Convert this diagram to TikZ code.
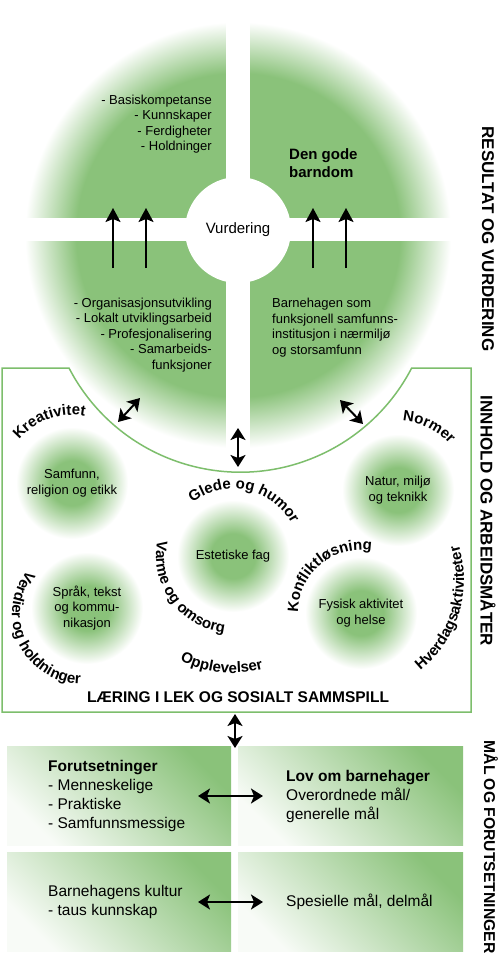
\documentclass[tikz,border=0pt]{standalone}
\usepackage{fontspec}
\setmainfont{Liberation Sans}
\usetikzlibrary{
  arrows.meta,
  decorations.text
}

\definecolor{leafgreen}{RGB}{138,194,122}
\definecolor{rimgreen}{RGB}{125,190,108}

\pgfdeclareradialshading{bigfade}{\pgfpoint{0bp}{0bp}}{color(0bp)=(leafgreen); color(19bp)=(leafgreen); color(25bp)=(white); color(50bp)=(white)}
\pgfdeclareradialshading{ballfade}{\pgfpoint{0bp}{0bp}}{color(0bp)=(leafgreen); color(10bp)=(leafgreen); color(25bp)=(white); color(50bp)=(white)}

\newcommand\bowfont{\bfseries\fontsize{15}{15}\selectfont}

\begin{document}
\begin{tikzpicture}[
  x=1pt, y=1pt,
  every node/.style={inner sep=0pt},
  small/.style={font=\fontsize{13}{15.5}\selectfont},
  plain/.style={font=\fontsize{15.5}{19}\selectfont},
  side/.style={rotate=-90, font=\bfseries\fontsize{17}{17}\selectfont},
  hub/.style={circle, fill=white, minimum size=106pt, font=\fontsize{15}{18}\selectfont},
  field/.style={circle, shade, shading=ballfade, minimum size=112pt, align=center, small},
  goal/.style={minimum height=99pt, top color=leafgreen, bottom color=white!94!leafgreen, shading angle=-45},
  rim/.style={draw=rimgreen, line width=1.5pt},
  lift/.style={line width=2pt, -{Stealth[length=14pt, width=15pt, inset=3pt]}},
  swap/.style={line width=2pt, {Stealth[length=12pt, width=15pt, inset=3pt]}-{Stealth[length=12pt, width=15pt, inset=3pt]}},
  bow/.style={decorate, decoration={text along path, text align=center, text={|\bowfont|#1}}}
  ]
\useasboundingbox (0,0) rectangle (500,-964);
\fill[white] (0,0) rectangle (500,-964);

% result disc
\shade[shading=bigfade] (238,-235) circle[radius=213];
\fill[white] (226,0) rectangle (250,-472);
\fill[white] (0,-218) rectangle (480,-241);
\node[hub] (vurdering) at (238,-230) {Vurdering};

\node[small, anchor=east, align=right] (kompetanse) at (212,-124) {- Basiskompetanse\\- Kunnskaper\\- Ferdigheter\\- Holdninger};
\node[anchor=west, align=left, font=\bfseries\fontsize{15}{18}\selectfont] (barndom) at (289,-163) {Den gode\\barndom};
\node[small, anchor=east, align=right] (utvikling) at (212,-335) {- Organisasjonsutvikling\\- Lokalt utviklingsarbeid\\- Profesjonalisering\\- Samarbeids-\\funksjoner};
\node[small, anchor=west, align=left] (institusjon) at (272,-327.5) {Barnehagen som\\funksjonell samfunns-\\institusjon i nærmiljø\\og storsamfunn};

\foreach \x [count=\i] in {113,146,313,346} {
  \coordinate (foot\i) at (\x,-268);
  \coordinate (head\i) at (\x,-208);
  \draw[lift] (foot\i) -- (head\i);
}

% content box
\draw[rim, fill=white] (2,-368) -- (69,-368) arc[start angle=207.4, end angle=332.6, radius=193] -- (471,-368) -- (471,-712) -- (2,-712) -- cycle;

\node[field] (etikk) at (72,-483) {Samfunn,\\religion og etikk};
\node[field] (teknikk) at (398,-490) {Natur, miljø\\og teknikk};
\node[field] (estetikk) at (233,-556) {Estetiske fag};
\node[field] (sprak) at (87,-608) {Språk, tekst\\og kommu-\\nikasjon};
\node[field] (helse) at (361,-613) {Fysisk aktivitet\\og helse};

\path[bow=Kreativitet] (etikk.center) ++(180:68) arc[start angle=180, end angle=40, radius=68];
\path[bow=Normer] (teknikk.center) ++(124:69) arc[start angle=124, end angle=4, radius=69];
\path[bow=Glede og humor] (estetikk.center) ++(158:67) arc[start angle=158, end angle=-2, radius=67];
\path[bow=Varme og omsorg] (estetikk.center) ++(136:77) arc[start angle=136, end angle=296, radius=77];
\path[bow=Opplevelser] (estetikk.center) ++(224:117) arc[start angle=224, end angle=304, radius=117];
\coordinate (verdiMid) at (82,-614);
\path[bow=Verdier og holdninger] (verdiMid) ++(115:70) arc[start angle=115, end angle=295, radius=70];
\path[bow=Konfliktløsning] (helse.center) ++(210:63) arc[start angle=210, end angle=50, radius=63];
\coordinate (hverdagMid) at (348,-580);
\path[bow=Hverdagsaktiviteter] (hverdagMid) ++(-97:116) arc[start angle=-97, end angle=63, radius=116];

\node[font=\bfseries\fontsize{15.5}{15.5}\selectfont] (laering) at (238,-697) {LÆRING I LEK OG SOSIALT SAMMSPILL};

\coordinate (kreaA) at (118,-422);
\coordinate (kreaB) at (140,-398);
\coordinate (midA) at (238,-428);
\coordinate (midB) at (238,-467);
\coordinate (normA) at (340,-400);
\coordinate (normB) at (363,-424);
\draw[swap] (kreaA) -- (kreaB);
\draw[swap] (midA) -- (midB);
\draw[swap] (normA) -- (normB);

% goals and conditions
\node[goal, minimum width=224pt] (forut) at (119,-795.5) {};
\node[goal, minimum width=225pt] (lov) at (350.5,-795.5) {};
\node[goal, minimum width=224pt] (kultur) at (119,-901.5) {};
\node[goal, minimum width=225pt] (delmal) at (350.5,-901.5) {};

\node[plain, anchor=west, align=left] (forutTxt) at (48,-796) {\textbf{Forutsetninger}\\- Menneskelige\\- Praktiske\\- Samfunnsmessige};
\node[plain, anchor=west, align=left] (lovTxt) at (286,-796) {\textbf{Lov om barnehager}\\Overordnede mål/\\generelle mål};
\node[plain, anchor=west, align=left] (kulturTxt) at (48,-902) {Barnehagens kultur\\- taus kunnskap};
\node[plain, anchor=west, align=left] (delmalTxt) at (286,-902) {Spesielle mål, delmål};

\coordinate (linkA) at (235,-714);
\coordinate (linkB) at (235,-748);
\draw[swap] (linkA) -- (linkB);
\coordinate (upperA) at (198,-796);
\coordinate (upperB) at (263,-796);
\coordinate (lowerA) at (198,-902);
\coordinate (lowerB) at (263,-902);
\draw[swap] (upperA) -- (upperB);
\draw[swap] (lowerA) -- (lowerB);

\node[side] (resultat) at (488,-239) {RESULTAT OG VURDERING};
\node[side] (innhold) at (488,-521) {INNHOLD OG ARBEIDSMÅTER};
\node[side, font=\bfseries\fontsize{15.7}{15.7}\selectfont] (maal) at (491,-847) {MÅL OG FORUTSETNINGER};
\end{tikzpicture}
\end{document}
